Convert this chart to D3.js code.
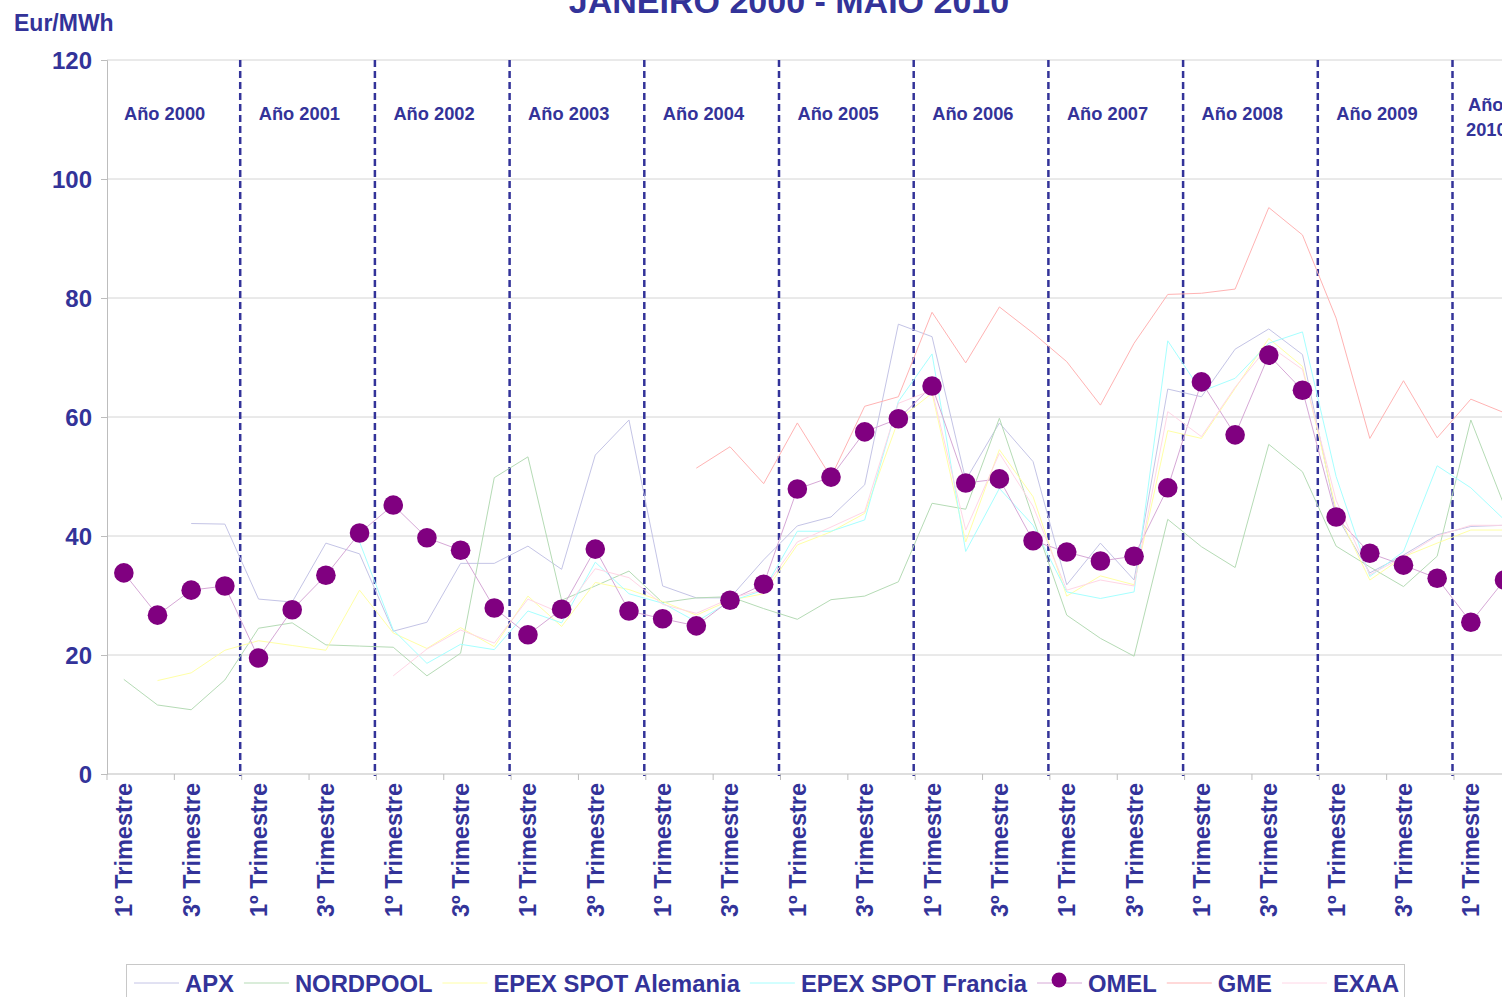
<!DOCTYPE html>
<html>
<head>
<meta charset="utf-8">
<script src="https://cdn.jsdelivr.net/npm/d3@7"></script>
<style>
  body { margin: 0; background: #fff; }
  svg { display: block; font-family: "Liberation Sans", Arial, sans-serif; font-weight: bold; }
</style>
</head>
<body>
<div id="vis"></div>
<script>
// ---- data ----
var years = ['2000','2001','2002','2003','2004','2005','2006','2007','2008','2009','2010'];
var quarterLabels = ['1º Trimestre','2º Trimestre','3º Trimestre','4º Trimestre'];
var yTicks = [0, 20, 40, 60, 80, 100, 120];
var seriesNames = ['APX','NORDPOOL','EPEX SPOT Alemania','EPEX SPOT Francia','OMEL','GME','EXAA'];

var apx = [null,null,42.1,42.0, 29.4,28.9,38.8,37.0, 24.0,25.5,35.4,35.4, 38.3,34.4,53.6,59.5,
  31.6,29.6,29.6,36.0, 41.7,43.2,48.6,75.6, 73.5,49.4,59.0,52.5, 31.8,38.8,32.6,64.7,
  63.4,71.4,74.8,70.5, 43.5,33.8,36.8,40.2, 41.6,41.8];
var nordpool = [15.9,11.6,10.8,15.8, 24.5,25.4,21.7,21.5, 21.3,16.5,20.3,49.8, 53.3,29.2,31.6,34.1,
  28.8,29.6,29.8,27.8, 26.0,29.3,29.9,32.3, 45.5,44.5,59.8,43.0, 26.7,22.8,19.8,42.8,
  38.2,34.7,55.4,50.8, 38.3,34.8,31.5,36.6, 59.5,45.0];
var epexDe = [null,15.7,17.0,20.8, 22.4,21.6,20.8,30.9, 23.7,21.1,24.6,21.4, 29.9,24.8,32.2,31.0,
  29.0,26.7,29.2,30.3, 38.5,40.7,43.8,59.5, 64.0,39.0,54.5,46.6, 29.9,33.3,31.8,57.7,
  56.4,64.8,73.2,68.5, 44.4,32.6,36.5,38.8, 41.0,41.0];
var epexFr = [null,null,null,null, null,null,null,39.0, 24.2,18.6,21.8,20.9, 27.4,25.4,35.6,30.3,
  28.7,25.6,29.0,30.9, 40.8,40.8,42.7,62.6, 70.6,37.4,48.0,41.8, 30.6,29.5,30.6,72.8,
  64.3,66.5,72.4,74.3, 50.0,33.2,37.4,51.8, 48.1,42.7];
var omel = [33.8,26.7,30.9,31.6, 19.5,27.6,33.4,40.5, 45.2,39.7,37.6,27.9, 23.4,27.7,37.8,27.4,
  26.1,24.9,29.2,31.9, 47.9,49.9,57.5,59.7, 65.2,48.9,49.6,39.2, 37.3,35.8,36.6,48.1,
  65.9,57.0,70.4,64.5, 43.2,37.1,35.1,32.9, 25.5,32.6];
var gme = [null,null,null,null, null,null,null,null, null,null,null,null, null,null,null,null,
  null,51.4,55.0,48.8, 59.0,49.9,61.8,63.4, 77.6,69.1,78.5,74.1, 69.3,62.0,72.4,80.6,
  80.8,81.5,95.2,90.6, 76.6,56.4,66.1,56.5, 63.0,60.7];
var exaa = [null,null,null,null, null,null,null,null, 16.5,21.0,24.2,22.0, 29.4,27.0,34.5,33.0,
  28.5,27.0,29.5,31.0, 39.0,41.5,44.1,62.3, 64.5,41.0,53.9,45.0, 30.9,32.6,31.6,60.9,
  56.7,65.0,72.0,68.0, 46.0,33.5,36.5,40.0, 41.8,41.8];

var seriesValues = [apx, nordpool, epexDe, epexFr, omel, gme, exaa];
var seriesColors = ['#c4c4e6', '#b5dbb5', '#ffffa6', '#a6ffff', '#d6a8d6', '#ffb3b3', '#ffd6e6'];

// ---- layout ----
var W = 1502, H = 997;
var textColor = '#333399';
var plotLeft = 107, plotTop = 60, plotBottom = 774, step = 33.675;
var nCat = omel.length;

var svg = d3.select('#vis').append('svg').attr('width', W).attr('height', H);

var x = d3.scaleBand()
  .domain(d3.range(nCat))
  .range([plotLeft, plotLeft + nCat * step])
  .padding(0);
var cx = function (i) { return x(i) + x.bandwidth() / 2; };

var y = d3.scaleLinear().domain([0, 120]).range([plotBottom, plotTop]);

// gridlines
svg.append('g')
  .selectAll('line')
  .data(yTicks.filter(function (d) { return d > 0; }))
  .enter().append('line')
  .attr('x1', plotLeft).attr('x2', W)
  .attr('y1', function (d) { return y(d); })
  .attr('y2', function (d) { return y(d); })
  .attr('stroke', '#d4d4d4').attr('stroke-width', 1);

// y axis
var yAxis = svg.append('g')
  .attr('transform', 'translate(' + plotLeft + ',0)')
  .call(d3.axisLeft(y).tickValues(yTicks).tickSize(6).tickPadding(9));
yAxis.select('.domain').attr('stroke', '#bdbdbd');
yAxis.selectAll('.tick line').attr('stroke', '#bdbdbd');
yAxis.selectAll('text')
  .attr('fill', textColor).style('font-size', '24px').style('font-weight', 'bold')
  .attr('dy', '0.36em');

// x axis line + ticks every two quarters
svg.append('line')
  .attr('x1', plotLeft).attr('x2', W)
  .attr('y1', plotBottom).attr('y2', plotBottom)
  .attr('stroke', '#bdbdbd');
svg.append('g')
  .selectAll('line')
  .data(d3.range(0, nCat, 2))
  .enter().append('line')
  .attr('x1', function (i) { return x(i); })
  .attr('x2', function (i) { return x(i); })
  .attr('y1', plotBottom).attr('y2', plotBottom + 6)
  .attr('stroke', '#bdbdbd');

// rotated quarter labels (only 1º and 3º shown)
svg.append('g')
  .selectAll('text')
  .data(d3.range(0, nCat, 2))
  .enter().append('text')
  .attr('transform', function (i) { return 'translate(' + cx(i) + ',' + (plotBottom + 9) + ') rotate(-90)'; })
  .attr('text-anchor', 'end')
  .attr('dy', '0.36em')
  .attr('fill', textColor)
  .style('font-size', '23.5px')
  .text(function (i) { return quarterLabels[i % 4]; });

// year separators
svg.append('g')
  .selectAll('line')
  .data(d3.range(4, nCat, 4))
  .enter().append('line')
  .attr('x1', function (i) { return x(i) - 1.5; })
  .attr('x2', function (i) { return x(i) - 1.5; })
  .attr('y1', plotTop).attr('y2', plotBottom + 2)
  .attr('stroke', textColor)
  .attr('stroke-width', 2.5)
  .attr('stroke-dasharray', '7,4');

// year labels
years.forEach(function (yr, k) {
  var x0 = x(k * 4);
  if (k < years.length - 1) {
    svg.append('text')
      .attr('x', x0 + 17).attr('y', 120)
      .attr('fill', textColor).style('font-size', '18.3px')
      .text('Año ' + yr);
  } else {
    var t = svg.append('text').attr('fill', textColor).style('font-size', '18.3px');
    t.append('tspan').attr('x', x0 + 14).attr('y', 111).text('Año');
    t.append('tspan').attr('x', x0 + 12).attr('y', 136).text(yr);
  }
});

// series lines
var line = d3.line()
  .defined(function (d) { return d != null; })
  .x(function (d, i) { return cx(i); })
  .y(function (d) { return y(d); });

svg.append('g')
  .selectAll('path')
  .data(seriesValues)
  .enter().append('path')
  .attr('d', line)
  .attr('fill', 'none')
  .attr('stroke', function (d, i) { return seriesColors[i]; })
  .attr('stroke-width', 1);

// OMEL markers
svg.append('g')
  .selectAll('circle')
  .data(omel)
  .enter().append('circle')
  .attr('cx', function (d, i) { return cx(i); })
  .attr('cy', function (d) { return y(d); })
  .attr('r', 9.8)
  .attr('fill', '#800080');

// axis unit + title
svg.append('text')
  .attr('x', 14).attr('y', 31)
  .attr('fill', textColor).style('font-size', '23px')
  .text('Eur/MWh');

svg.append('text')
  .attr('x', 789).attr('y', 13)
  .attr('text-anchor', 'middle')
  .attr('fill', textColor).style('font-size', '34px')
  .text('JANEIRO 2000 - MAIO 2010');

// legend
var legend = svg.append('g');
legend.append('rect')
  .attr('x', 126.5).attr('y', 964.5)
  .attr('width', 1278).attr('height', 60)
  .attr('fill', '#fff').attr('stroke', '#c8c8c8');

var lx = 134;
seriesNames.forEach(function (name, i) {
  legend.append('line')
    .attr('x1', lx).attr('x2', lx + 45)
    .attr('y1', 983).attr('y2', 983)
    .attr('stroke', seriesColors[i]).attr('stroke-width', 1);
  if (name === 'OMEL') {
    legend.append('circle')
      .attr('cx', lx + 22).attr('cy', 980).attr('r', 7.5)
      .attr('fill', '#800080');
  }
  var t = legend.append('text')
    .attr('x', lx + 51).attr('y', 992)
    .attr('fill', textColor).style('font-size', '23.8px')
    .text(name);
  lx += 51 + t.node().getComputedTextLength() + 10;
});
</script>
</body>
</html>
